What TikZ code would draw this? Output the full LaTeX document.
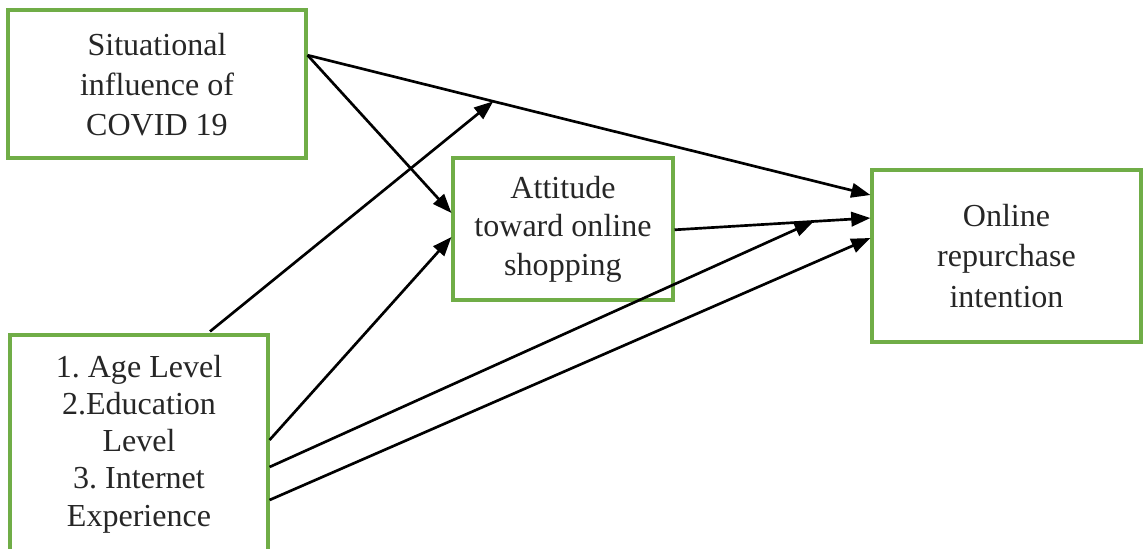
\documentclass[tikz,border=0pt]{standalone}
\usepackage{fontspec}
\setmainfont{Liberation Serif}
\usetikzlibrary{arrows.meta,positioning,calc}
\definecolor{boxgreen}{RGB}{112,173,71}
\frenchspacing

\begin{document}
\begin{tikzpicture}[>={Triangle[length=0.48cm,width=0.36cm]},line width=1.9pt]
\tikzstyle{box}=[draw=boxgreen,line width=2.2pt,align=center,text=black!85,font=\fontsize{22.8}{28.5}\selectfont]
\useasboundingbox (0,0) rectangle (28.6,-13.7);
\node[box,minimum width=7.45cm,minimum height=3.7cm,text depth=-0.2cm] (sit) at (3.925,-2.1) {Situational\\ influence of\\ COVID 19};
\node[box,minimum width=5.5cm,minimum height=3.55cm,font=\fontsize{22.8}{27.5}\selectfont] (att) at (14.075,-5.725) {Attitude\\ toward online\\ shopping};
\node[box,minimum width=6.725cm,minimum height=4.3cm] (onl) at (25.1625,-6.4) {Online\\ repurchase\\ intention};
\node[box,minimum width=6.45cm,minimum height=5.45cm,font=\fontsize{22.8}{26.5}\selectfont] (age) at (3.475,-11.1) {1. Age Level\\ 2.Education\\ Level\\ 3. Internet\\ Experience};
% direct paths
\coordinate (s1) at ($(sit.east)+(0,0.72)$);
\draw[->] (s1) -- coordinate[pos=0.33] (m1) ($(onl.west)+(0,1.525)$);
\draw[->] (s1) -- ($(att.west)+(0,0.4)$);
\draw[->] ($(att.east)+(0,-0.02)$) -- coordinate[pos=0.71] (m2) ($(onl.west)+(0,0.95)$);
\draw[->] ($(age.east)+(0,0.1)$) -- ($(att.west)+(0,-0.2)$);
\draw[->] ($(age.east)+(0,-1.4)$) -- ($(onl.west)+(0,0.45)$);
% moderating paths
\draw[->] ($(age.north)+(1.775,0.05)$) -- (m1);
\draw[->] ($(age.east)+(0,-0.575)$) -- (m2);
\end{tikzpicture}
\end{document}
